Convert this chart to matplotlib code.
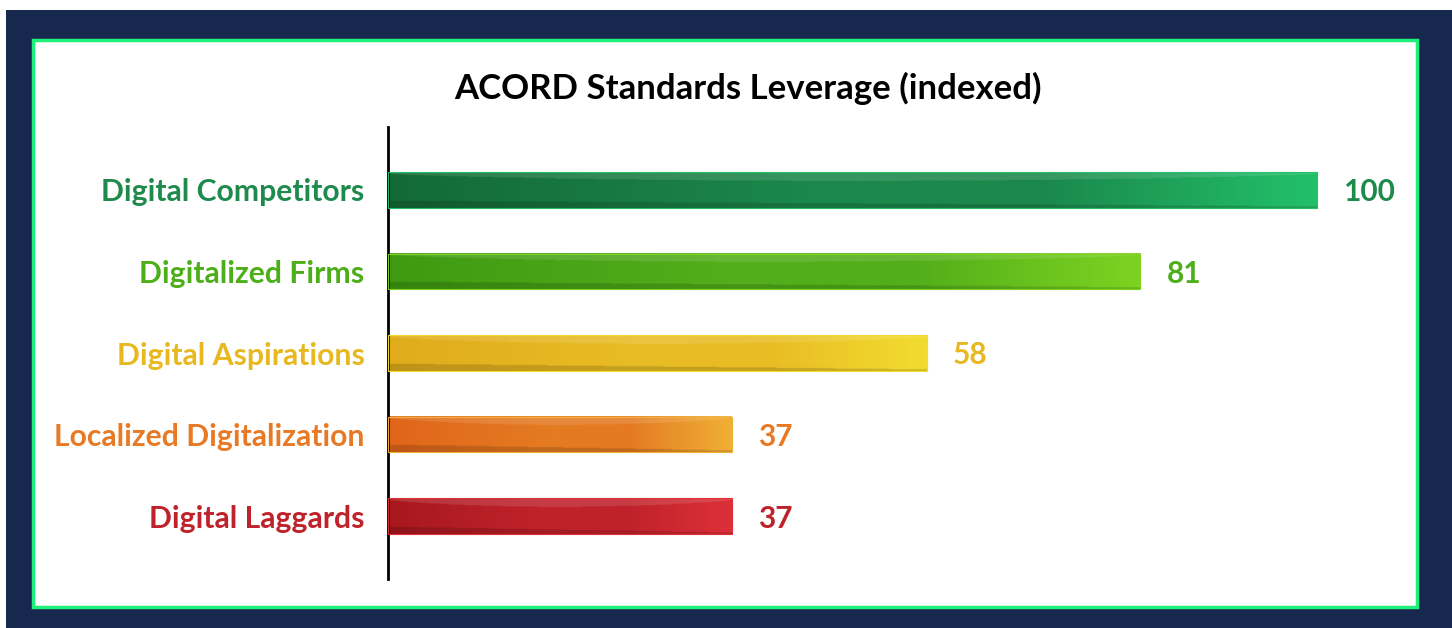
#! /usr/bin/env python
#
import numpy as np
import matplotlib
matplotlib.use("Agg")
import matplotlib.pyplot as plt
from matplotlib.patches import Rectangle
from matplotlib.colors import to_rgb

categories = ["Digital Competitors", "Digitalized Firms", "Digital Aspirations",
              "Localized Digitalization", "Digital Laggards"]
values = [100, 81, 58, 37, 37]
label_colors = ["#1e8a4c", "#4caf1a", "#e8b820", "#e87a25", "#c0222b"]
left_colors = ["#146a36", "#3f9a12", "#e0ac1c", "#e0651a", "#a8181e"]
mid_colors = ["#1b874b", "#52ae1a", "#e8bc24", "#e47a22", "#c0222b"]
right_colors = ["#22c06a", "#7ed321", "#f2dc30", "#f0b035", "#dd3038"]
title = "ACORD Standards Leverage (indexed)"

W, H = 1452, 628
plt.rcParams['font.family'] = ['Lato', 'DejaVu Sans']
fig = plt.figure(figsize=(W / 100, H / 100), dpi=100)

def px(x0, y0, x1, y1):
    # pixel box (top-left origin) -> figure fraction rect
    return (x0 / W, 1 - y1 / H, (x1 - x0) / W, (y1 - y0) / H)

# navy background and green framed white panel
fig.patches.append(Rectangle((6 / W, 0), 1, 1 - 10 / H, transform=fig.transFigure,
                             facecolor="#17284f", edgecolor="none", zorder=-3))
x0, y0, w, h = px(33, 40, 1417, 607)
fig.patches.append(Rectangle((x0, y0), w, h, transform=fig.transFigure,
                             facecolor="white", edgecolor="#1ef07a", linewidth=2.5, zorder=-2))

fig.text(748 / W, 1 - 88 / H, title, ha="center", va="center",
         fontsize=25, fontweight="bold", color="black")

ax = fig.add_axes(px(388, 127, 1410, 579))
ax.set_zorder(2)
ax.set_facecolor("none")
n = len(categories)
bh = 0.44

def bar_image(lc, mc, rc, nx=300, ny=60):
    lc, mc, rc = np.array(to_rgb(lc)), np.array(to_rgb(mc)), np.array(to_rgb(rc))
    xs = np.linspace(0, 1, nx)
    ys = np.linspace(0, 1, ny)
    base = np.zeros((nx, 3))
    for k in range(3):
        base[:, k] = np.interp(xs, [0, 0.45, 0.7, 1], [lc[k], mc[k], mc[k], rc[k]])
    img = np.repeat(base[None, :, :], ny, axis=0)
    top = 0.04 + 0.2 * np.sin(np.pi * xs) ** 0.7
    bot = 1 - (0.04 + 0.16 * (1 - xs))
    X, Y = np.meshgrid(xs, ys)
    hi = Y < top[None, :]
    lo = Y > bot[None, :]
    img[hi] = img[hi] + (1 - img[hi]) * 0.12
    img[lo] = img[lo] * 0.85
    return np.clip(img, 0, 1)

for i, (cat, v) in enumerate(zip(categories, values)):
    img = bar_image(left_colors[i], mid_colors[i], right_colors[i])
    ax.imshow(img, extent=(0, v, i + bh / 2, i - bh / 2), aspect="auto",
              interpolation="bilinear", zorder=2)
    ax.add_patch(Rectangle((0, i - bh / 2), v, bh, facecolor="none",
                           edgecolor=right_colors[i], linewidth=0.8, zorder=3))
    ax.text(v + 2.8, i, str(v), ha="left", va="center_baseline", fontsize=21.5,
            fontweight="bold", color=label_colors[i])

ax.set_ylim(n - 0.227, -0.773)
ax.set_xlim(0, 1022 / 9.29)
ax.set_yticks(range(n))
ax.set_yticklabels(categories, fontsize=21.7, fontweight="bold")
for t, c in zip(ax.get_yticklabels(), label_colors):
    t.set_color(c)
ax.tick_params(axis="y", length=0, pad=17)
ax.set_xticks([])
for s in ["top", "right", "bottom"]:
    ax.spines[s].set_visible(False)
ax.spines["left"].set_linewidth(2)
ax.spines["left"].set_color("black")

fig.savefig("out.png", dpi=100)
